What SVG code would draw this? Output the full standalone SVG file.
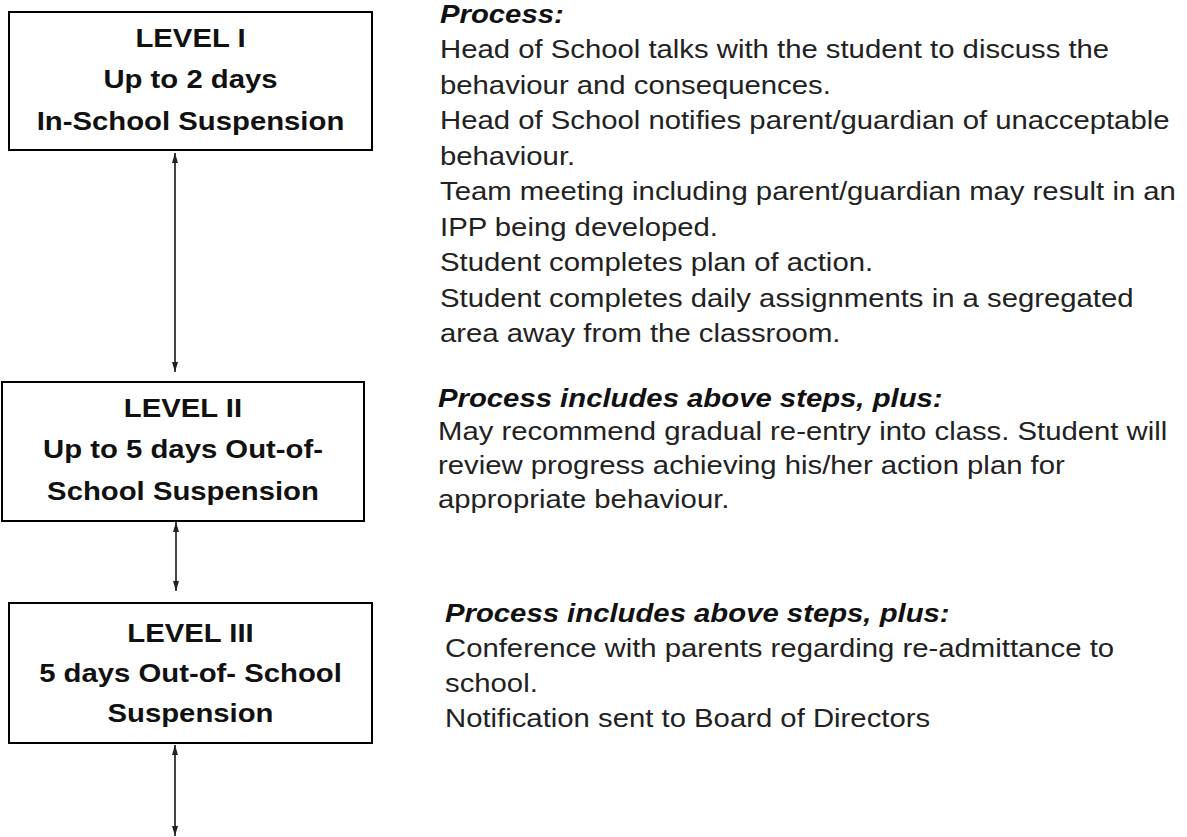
<svg xmlns="http://www.w3.org/2000/svg" width="1187" height="837" viewBox="0 0 1187 837">
<style>
.box{fill:#fff;stroke:#000;stroke-width:2}
.lt{font-family:"Liberation Sans",Arial,sans-serif;font-size:26px;font-weight:bold;fill:#111;text-anchor:middle}
.hd{font-family:"Liberation Sans",Arial,sans-serif;font-size:26px;font-weight:bold;font-style:italic;fill:#111}
.bd{font-family:"Liberation Sans",Arial,sans-serif;font-size:26px;fill:#222}
.conn{stroke:#444;stroke-width:2;fill:none;marker-start:url(#ah);marker-end:url(#ah)}
</style>
<defs>
<marker id="ah" viewBox="0 0 10 6" refX="10" refY="3" markerWidth="10" markerHeight="6" markerUnits="userSpaceOnUse" orient="auto-start-reverse">
<path d="M0,0 L10,3 L0,6 Z" fill="#222"/>
</marker>
</defs>
<rect width="1187" height="837" fill="#fff"/>
<g id="connectors">
<line class="conn" x1="175" y1="153" x2="175" y2="372"/>
<line class="conn" x1="176" y1="522" x2="176" y2="591"/>
<line class="conn" x1="175" y1="745" x2="175" y2="836"/>
</g>
<g id="level1">
<rect class="box" x="9" y="12" width="363" height="138"/>
<g transform="translate(190.5,0) scale(1.127,1)">
<text class="lt" x="0" y="47">LEVEL I</text>
<text class="lt" x="0" y="88">Up to 2 days</text>
<text class="lt" x="0" y="130">In-School Suspension</text>
</g>
</g>
<g id="level2">
<rect class="box" x="2" y="382" width="362" height="139"/>
<g transform="translate(183,0) scale(1.127,1)">
<text class="lt" x="0" y="417">LEVEL II</text>
<text class="lt" x="0" y="458">Up to 5 days Out-of-</text>
<text class="lt" x="0" y="500">School Suspension</text>
</g>
</g>
<g id="level3">
<rect class="box" x="9" y="603" width="363" height="140"/>
<g transform="translate(190.5,0) scale(1.127,1)">
<text class="lt" x="0" y="642">LEVEL III</text>
<text class="lt" x="0" y="682">5 days Out-of- School</text>
<text class="lt" x="0" y="722">Suspension</text>
</g>
</g>
<g id="process1" transform="translate(440,0) scale(1.127,1)">
<text class="hd" x="0" y="23">Process:</text>
<text class="bd" x="0" y="58.5">Head of School talks with the student to discuss the</text>
<text class="bd" x="0" y="94">behaviour and consequences.</text>
<text class="bd" x="0" y="129.5">Head of School notifies parent/guardian of unacceptable</text>
<text class="bd" x="0" y="165">behaviour.</text>
<text class="bd" x="0" y="200.5">Team meeting including parent/guardian may result in an</text>
<text class="bd" x="0" y="236">IPP being developed.</text>
<text class="bd" x="0" y="271.5">Student completes plan of action.</text>
<text class="bd" x="0" y="307">Student completes daily assignments in a segregated</text>
<text class="bd" x="0" y="342.5">area away from the classroom.</text>
</g>
<g id="process2" transform="translate(438,0) scale(1.127,1)">
<text class="hd" x="0" y="407">Process includes above steps, plus:</text>
<text class="bd" x="0" y="440">May recommend gradual re-entry into class. Student will</text>
<text class="bd" x="0" y="474">review progress achieving his/her action plan for</text>
<text class="bd" x="0" y="508">appropriate behaviour.</text>
</g>
<g id="process3" transform="translate(445,0) scale(1.127,1)">
<text class="hd" x="0" y="622">Process includes above steps, plus:</text>
<text class="bd" x="0" y="657">Conference with parents regarding re-admittance to</text>
<text class="bd" x="0" y="692">school.</text>
<text class="bd" x="0" y="727">Notification sent to Board of Directors</text>
</g>
</svg>
